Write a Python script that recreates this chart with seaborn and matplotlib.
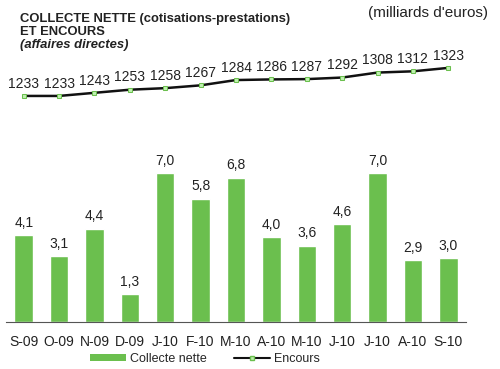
import numpy as np
import pandas as pd
import matplotlib
matplotlib.use("Agg")
import matplotlib.pyplot as plt
from matplotlib.lines import Line2D
from matplotlib.patches import Patch
import seaborn as sns

# Data
months = ["S-09", "O-09", "N-09", "D-09", "J-10", "F-10", "M-10",
          "A-10", "M-10", "J-10", "J-10", "A-10", "S-10"]
collecte = [4.1, 3.1, 4.4, 1.3, 7.0, 5.8, 6.8, 4.0, 3.6, 4.6, 7.0, 2.9, 3.0]
encours = [1233, 1233, 1243, 1253, 1258, 1267, 1284, 1286, 1287, 1292, 1308, 1312, 1323]

GREEN = "#6bbf4e"

sns.set_style("white")
plt.rcParams["font.family"] = ["Liberation Sans", "DejaVu Sans"]

df = pd.DataFrame({"pos": np.arange(len(months)), "collecte": collecte, "encours": encours})

fig = plt.figure(figsize=(5, 3.69), dpi=100)

# bars
ax = fig.add_axes([0.012, 0.127, 0.92, 0.461])
sns.barplot(data=df, x="pos", y="collecte", color=GREEN, width=0.52,
            saturation=1, ax=ax)
for i, v in enumerate(collecte):
    ax.text(i, v + 0.25, f"{v:.1f}".replace(".", ","), ha="center", va="bottom",
            fontsize=10, color="#222222")
ax.set_xlim(-0.5, len(months) - 0.5)
ax.set_ylim(0, 8)
ax.set_xticks(range(len(months)))
ax.set_xticklabels(months, fontsize=10, color="#222222")
ax.set_xticks(np.arange(-0.5, len(months), 1), minor=True)
ax.tick_params(axis="x", which="major", length=0, pad=9)
ax.tick_params(axis="x", which="minor", length=3, color="#555555", width=1)
ax.set_yticks([])
ax.set_xlabel("")
ax.set_ylabel("")
sns.despine(ax=ax, left=True)
ax.spines["bottom"].set_color("#555555")

# line of encours
ax2 = fig.add_axes([0.012, 0.702, 0.92, 0.163])
sns.lineplot(data=df, x="pos", y="encours", color="#111111", linewidth=1.8,
             marker="s", markersize=3.5, markerfacecolor="#bff0b0",
             markeredgecolor=GREEN, ax=ax2)
for i, v in enumerate(encours):
    ax2.text(i, v + 17, str(v), ha="center", va="bottom", fontsize=10, color="#222222")
ax2.set_xlim(-0.5, len(months) - 0.5)
ax2.set_ylim(1188, 1381)
ax2.axis("off")

# titles
fig.text(0.04, 0.948, "COLLECTE NETTE (cotisations-prestations)", fontsize=9.4,
         fontweight="bold", color="#222222", va="center")
fig.text(0.04, 0.912, "ET ENCOURS", fontsize=9.4, fontweight="bold",
         color="#222222", va="center")
fig.text(0.04, 0.878, "(affaires directes)", fontsize=9.4, fontweight="bold",
         style="italic", color="#222222", va="center")
fig.text(0.975, 0.965, "(milliards d'euros)", fontsize=11, color="#222222",
         ha="right", va="center")

handles = [Patch(facecolor=GREEN, edgecolor="none"),
           Line2D([0], [0], color="#111111", lw=1.5, marker="s", markersize=2.5,
                  markerfacecolor="#bff0b0", markeredgecolor=GREEN)]
fig.legend(handles, ["Collecte nette", "Encours"], loc="center",
           bbox_to_anchor=(0.41, 0.027), ncol=2, frameon=False, fontsize=9,
           handlelength=2.9, handleheight=0.4, columnspacing=2.2, handletextpad=0.3)

fig.savefig("out.png", dpi=100)
